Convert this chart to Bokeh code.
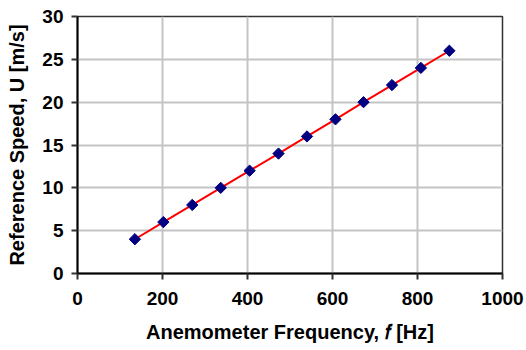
import math
from bokeh.plotting import figure
from bokeh.models import Range1d, FixedTicker
from bokeh.embed import file_html
from bokeh.resources import INLINE

# Data
freq = [135, 202, 270, 337, 405, 473, 540, 607, 673, 740, 808, 875]   # Hz
speed = [4, 6, 8, 10, 12, 14, 16, 18, 20, 22, 24, 26]                 # m/s
x_ticks = [0, 200, 400, 600, 800, 1000]
y_ticks = [0, 5, 10, 15, 20, 25, 30]

FONT = "Liberation Sans"

p = figure(width=526, height=350, output_backend="svg", toolbar_location=None,
           x_range=Range1d(0, 1000), y_range=Range1d(0, 30),
           min_border_left=77, min_border_right=24, min_border_top=16,
           min_border_bottom=77)
p.background_fill_color = "white"
p.border_fill_color = "white"
p.outline_line_color = "#333333"
p.outline_line_width = 1.5

p.line(freq, speed, line_color="#ff0000", line_width=2)
p.scatter(freq, speed, marker="square", size=8, angle=math.pi / 4,
          fill_color="#000080", line_color="#000080")

p.xaxis.ticker = FixedTicker(ticks=x_ticks)
p.yaxis.ticker = FixedTicker(ticks=y_ticks)

p.xaxis.axis_label = "Anemometer Frequency, \U0001D453 [Hz]"
p.yaxis.axis_label = "Reference Speed, U [m/s]"

for ax in (p.xaxis, p.yaxis):
    ax.axis_line_color = "black"
    ax.axis_line_width = 2
    ax.major_tick_line_color = "#333333"
    ax.major_tick_line_width = 2
    ax.major_tick_in = 0
    ax.major_tick_out = 6
    ax.minor_tick_line_color = None
    ax.major_label_text_font = FONT
    ax.major_label_text_font_style = "bold"
    ax.major_label_text_font_size = "19px"
    ax.major_label_text_color = "black"
    ax.axis_label_text_font = FONT
    ax.axis_label_text_font_style = "bold"
    ax.axis_label_text_font_size = "20px"
    ax.axis_label_text_color = "black"

p.xaxis.major_label_standoff = 12
p.xaxis.axis_label_standoff = 13
p.yaxis.major_label_standoff = 8
p.yaxis.axis_label_standoff = 11

p.xgrid.ticker = FixedTicker(ticks=x_ticks)
p.ygrid.ticker = FixedTicker(ticks=y_ticks)
p.grid.grid_line_color = "#c4c4c4"
p.grid.grid_line_width = 2

open("out.html", "w").write(file_html(p, INLINE))
